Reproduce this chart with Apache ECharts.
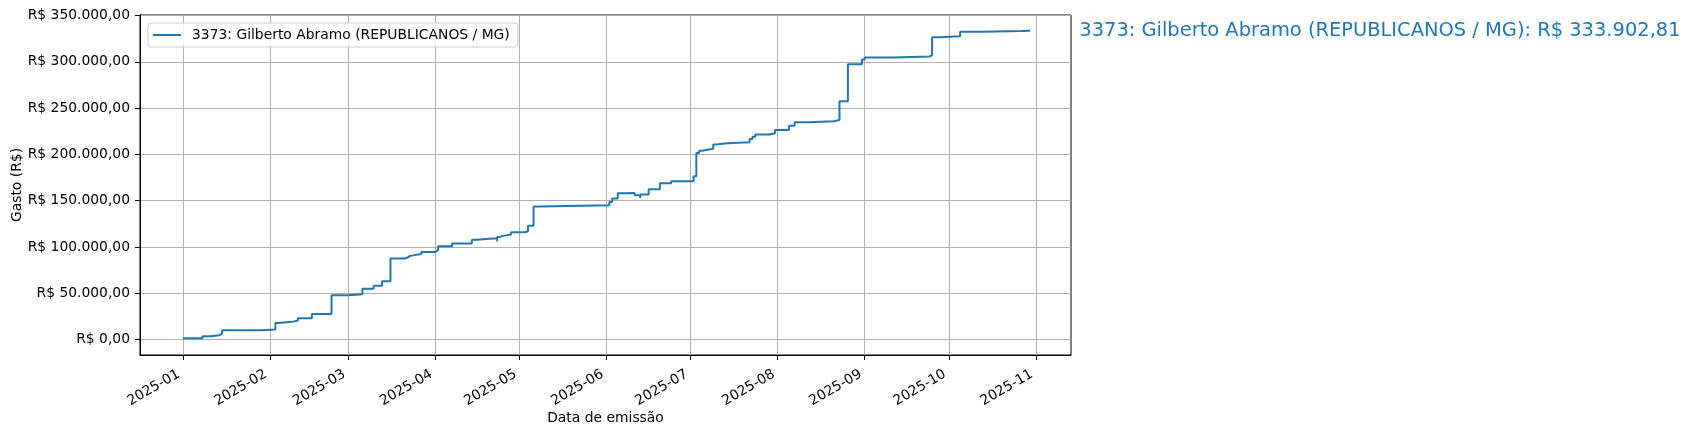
<!DOCTYPE html>
<html><head><meta charset="utf-8">
<script src="https://cdn.jsdelivr.net/npm/echarts@6/dist/echarts.min.js"></script>
<style>html,body{margin:0;padding:0;background:#fff}#c{width:1692px;height:435px}</style>
</head><body><div id="c"></div>
<script>
const seriesName = '3373: Gilberto Abramo (REPUBLICANOS / MG)';
const dates = [
 '2025-01-01','2025-01-08','2025-01-11','2025-01-14','2025-01-15','2025-01-29',
 '2025-02-03','2025-02-04','2025-02-09','2025-02-11','2025-02-16','2025-02-23',
 '2025-03-01','2025-03-06','2025-03-10','2025-03-13','2025-03-16','2025-03-21','2025-03-22','2025-03-23','2025-03-27',
 '2025-04-01','2025-04-02','2025-04-07','2025-04-14','2025-04-16','2025-04-19','2025-04-23','2025-04-23','2025-04-24','2025-04-25','2025-04-28',
 '2025-05-03','2025-05-04','2025-05-06','2025-05-08',
 '2025-06-02','2025-06-03','2025-06-05','2025-06-07','2025-06-11','2025-06-13','2025-06-13','2025-06-16','2025-06-20','2025-06-24',
 '2025-07-02','2025-07-03','2025-07-04','2025-07-05','2025-07-09','2025-07-10','2025-07-14','2025-07-22','2025-07-23','2025-07-24','2025-07-29','2025-07-31',
 '2025-08-05','2025-08-07','2025-08-12','2025-08-21','2025-08-23','2025-08-26','2025-08-31',
 '2025-09-01','2025-09-11','2025-09-24','2025-09-25','2025-09-28',
 '2025-10-05','2025-10-13','2025-10-27','2025-10-30'
];
const values = [
 1400,3600,4700,6500,10000,10800,
 18000,19100,20500,23000,27700,47800,
 48900,55000,58000,63000,87500,88500,90400,92500,94700,
 96500,100800,103800,107800,108700,109400,105800,110900,112000,113400,115900,
 117000,123000,143600,145000,
 148700,152300,158000,158400,155900,153000,156600,162300,168800,171000,
 176400,201600,204000,206000,210600,212000,213000,216700,219000,221400,222800,226400,
 231000,234700,235800,237200,257400,297300,302400,
 304600,305800,307000,326500,327600,
 332600,333300,333700,333902.81
];
const monthTicks = ['2025-01-01','2025-02-01','2025-03-01','2025-04-01','2025-05-01','2025-06-01','2025-07-01','2025-08-01','2025-09-01','2025-10-01','2025-11-01'];
const yTicks = [0,50000,100000,150000,200000,250000,300000,350000];
const xRange = ['2024-12-16T18','2025-11-13T12'];
const yRange = [-16695, 350597];

function ts(s){
  const parts = s.split('T');
  const d = parts[0].split('-').map(Number);
  const h = parts[1] ? Number(parts[1]) : 0;
  return Date.UTC(d[0], d[1]-1, d[2], h);
}
function brl(v){
  const neg = v < 0; v = Math.abs(v);
  let [i,f] = v.toFixed(2).split('.');
  i = i.replace(/\B(?=(\d{3})+(?!\d))/g, '.');
  return 'R$ ' + (neg ? '-' : '') + i + ',' + f;
}
function ym(v){
  const d = new Date(v);
  const m = d.getUTCMonth()+1;
  return d.getUTCFullYear() + '-' + (m<10?'0':'') + m;
}
const FONT = 'DejaVu Sans';
const data = dates.map((d,i)=>[ts(d), values[i]]);
const xTickVals = monthTicks.map(ts);

const chart = echarts.init(document.getElementById('c'), null, {renderer:'canvas'});
chart.setOption({
  animation:false,
  backgroundColor:'#fff',
  grid:{left:140, right:621, top:15, bottom:80, outerBoundsMode:'none', containLabel:false,
    show:true, borderColor:'#000', borderWidth:1, backgroundColor:'transparent'},
  legend:{
    left:148, top:23, orient:'horizontal',
    padding:[5,8,5,5],
    borderColor:'#cccccc', borderWidth:1, borderRadius:3,
    backgroundColor:'rgba(255,255,255,0.8)',
    icon:'rect', itemWidth:28, itemHeight:2,
    textStyle:{fontFamily:FONT, fontSize:13.89, color:'#000', padding:[0,0,0,6], lineHeight:14},
    data:[seriesName]
  },
  xAxis:{
    type:'value', min:ts(xRange[0]), max:ts(xRange[1]),
    name:'Data de emissão', nameLocation:'middle', nameGap:56, nameMoveOverlap:false,
    nameTextStyle:{fontFamily:FONT, fontSize:13.89, color:'#000'},
    axisLine:{show:true, onZero:false, lineStyle:{color:'#000', width:1}},
    axisTick:{show:true, customValues:xTickVals, length:5, inside:false, lineStyle:{color:'#000', width:1}},
    axisLabel:{customValues:xTickVals, formatter:ym, rotate:30, margin:16, padding:[0,4.6,0,0],
      fontFamily:FONT, fontSize:13.89, color:'#000'},
    splitLine:{show:true, lineStyle:{color:'#b0b0b0', width:1}}
  },
  yAxis:{
    type:'value', min:yRange[0], max:yRange[1],
    name:'Gasto (R$)', nameLocation:'middle', nameGap:116, nameMoveOverlap:false,
    nameTextStyle:{fontFamily:FONT, fontSize:13.89, color:'#000'},
    axisLine:{show:true, onZero:false, lineStyle:{color:'#000', width:1}},
    axisTick:{show:true, customValues:yTicks, length:5, inside:false, lineStyle:{color:'#000', width:1}},
    axisLabel:{customValues:yTicks, formatter:brl, margin:10, fontFamily:FONT, fontSize:13.89, color:'#000'},
    splitLine:{show:true, lineStyle:{color:'#b0b0b0', width:1}}
  },
  series:[{
    type:'line', name:seriesName, step:'end', symbol:'none', showSymbol:false,
    data:data, color:'#1f77b4',
    lineStyle:{color:'#1f77b4', width:2},
    endLabel:{show:true, formatter:p=>seriesName+': '+brl(p.value[1]), color:'#1f77b4',
      fontFamily:FONT, fontSize:19.44, distance:49}
  }]
});
</script></body></html>
